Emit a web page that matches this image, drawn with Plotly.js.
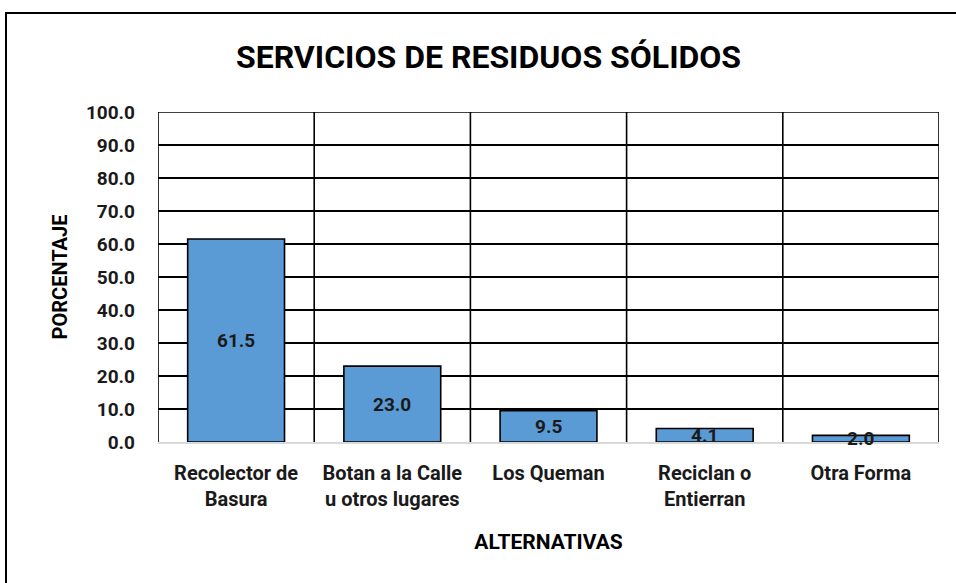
<!DOCTYPE html>
<html>
<head>
<meta charset="utf-8">
<script src="https://cdn.plot.ly/plotly-3.0.1.min.js"></script>
<style>
html,body{margin:0;padding:0;background:#fff;overflow:hidden;}
#frame{position:absolute;left:5px;top:12px;width:1000px;height:700px;border-left:2px solid #000;border-top:2px solid #000;pointer-events:none;}
#chart{position:absolute;left:0;top:0;width:956px;height:583px;}
</style>
</head>
<body>
<div id="chart"></div>
<div id="frame"></div>
<script>
var categories = ["Recolector de<br>Basura", "Botan a la Calle<br>u otros lugares", "Los Queman", "Reciclan o<br>Entierran", "Otra Forma"];
var values = [61.5, 23.0, 9.5, 4.1, 2.0];
var yTicks = [0,10,20,30,40,50,60,70,80,90,100];
var yTickLabels = yTicks.map(function(v){return v.toFixed(1);});

var FONT = 'Roboto, "Liberation Sans", sans-serif';
var TXT = '#1a1a1a';
var idx = categories.map(function(_, i){return i;});

var shapes = [];
for (var i = 0; i <= categories.length; i++) {
  shapes.push({type:'line', xref:'x', yref:'y', x0:i-0.5, x1:i-0.5, y0:0, y1:100,
    line:{color:'#000', width:1.6}, layer:'below'});
}
shapes.push({type:'line', xref:'x', yref:'y', x0:-0.5, x1:categories.length-0.5, y0:100, y1:100,
  line:{color:'#000', width:1.6}, layer:'below'});

var annotations = values.map(function(v, i){
  return {x:i, y:v/2, xref:'x', yref:'y', text:'<b>'+v.toFixed(1)+'</b>', showarrow:false,
    font:{family:FONT, size:19, color:TXT}};
});

var trace = {
  type:'bar', x:idx, y:values,
  width:0.62,
  marker:{color:'#5B9BD5', line:{color:'#000', width:1.6}},
  hoverinfo:'none'
};

var layout = {
  width:956, height:583,
  margin:{l:158, r:17, t:112, b:141},
  paper_bgcolor:'#fff', plot_bgcolor:'#fff',
  showlegend:false,
  title:{text:'<b>SERVICIOS DE RESIDUOS SÓLIDOS</b>', x:0.511, xanchor:'center', y:0.903, yanchor:'middle',
    font:{family:FONT, size:32, color:'#000'}},
  xaxis:{
    range:[-0.5, categories.length-0.5],
    tickmode:'array', tickvals:idx, ticktext:categories.map(function(c){return '<b>'+c+'</b>';}),
    showgrid:false, zeroline:false,
    showline:true, linecolor:'#d9d9d9', linewidth:2,
    ticks:'', ticklabelstandoff:12,
    tickfont:{family:FONT, size:20, color:TXT},
    title:{text:'<b>ALTERNATIVAS</b>', font:{family:FONT, size:21, color:'#000'}, standoff:24}
  },
  yaxis:{
    range:[0,100],
    tickmode:'array', tickvals:yTicks, ticktext:yTickLabels.map(function(t){return '<b>'+t+'</b>';}),
    showgrid:true, gridcolor:'#000', gridwidth:1.6,
    zeroline:false, showline:false, ticks:'',
    ticklabelstandoff:22,
    tickfont:{family:FONT, size:19, color:TXT},
    title:{text:'<b>PORCENTAJE</b>', font:{family:FONT, size:20, color:'#000'}, standoff:12}
  },
  shapes:shapes,
  annotations:annotations
};

Plotly.newPlot('chart', [trace], layout, {displayModeBar:false, staticPlot:true});
</script>
</body>
</html>
